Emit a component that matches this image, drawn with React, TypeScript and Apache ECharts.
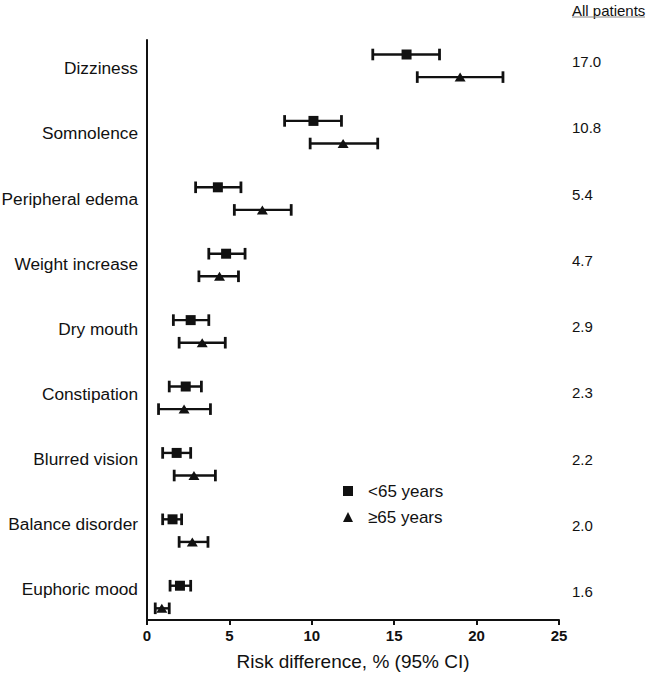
import React, { useEffect, useRef } from "react";
import * as echarts from "echarts";

const categories = [
  "Dizziness",
  "Somnolence",
  "Peripheral edema",
  "Weight increase",
  "Dry mouth",
  "Constipation",
  "Blurred vision",
  "Balance disorder",
  "Euphoric mood",
];

const under65Est = [15.75, 10.1, 4.3, 4.8, 2.65, 2.35, 1.8, 1.55, 2.0];
const under65Lo = [13.7, 8.35, 2.95, 3.75, 1.6, 1.35, 0.95, 0.95, 1.4];
const under65Hi = [17.75, 11.8, 5.7, 5.95, 3.75, 3.3, 2.65, 2.1, 2.65];

const over65Est = [19.0, 11.9, 7.0, 4.4, 3.35, 2.25, 2.85, 2.75, 0.9];
const over65Lo = [16.4, 9.9, 5.3, 3.15, 1.95, 0.7, 1.65, 1.95, 0.5];
const over65Hi = [21.6, 14.0, 8.75, 5.55, 4.75, 3.85, 4.15, 3.7, 1.35];

const allPatients = ["17.0", "10.8", "5.4", "4.7", "2.9", "2.3", "2.2", "2.0", "1.6"];

const xTicks = [0, 5, 10, 15, 20, 25];

const FONT = "Liberation Sans, Arial, sans-serif";
const INK = "#111";

export default function App() {
  const ref = useRef<HTMLDivElement>(null);

  useEffect(() => {
    if (!ref.current) return;
    const chart = echarts.init(ref.current, undefined, { renderer: "svg" });
    const idx = categories.map((_, i) => i);

    const errRender = (off: number) => (params: any, api: any) => {
      const a = api.coord([api.value(0), api.value(2)]);
      const b = api.coord([api.value(1), api.value(2)]);
      const y = a[1] + off;
      const h = 5.8;
      return {
        type: "group",
        children: [
          { type: "line", shape: { x1: a[0], y1: y, x2: b[0], y2: y }, style: { stroke: INK, lineWidth: 2.4 } },
          { type: "line", shape: { x1: a[0], y1: y - h, x2: a[0], y2: y + h }, style: { stroke: INK, lineWidth: 2.8 } },
          { type: "line", shape: { x1: b[0], y1: y - h, x2: b[0], y2: y + h }, style: { stroke: INK, lineWidth: 2.8 } },
        ],
      };
    };

    const OFF = 11.3;

    chart.setOption({
      animation: false,
      textStyle: { fontFamily: FONT },
      grid: { left: 147, right: 88, top: 40, bottom: 55, containLabel: false, outerBoundsMode: "none" },
      legend: {
        data: ["<65 years", "≥65 years"],
        orient: "vertical",
        left: 338,
        top: 476,
        itemWidth: 10,
        itemHeight: 10,
        itemGap: 6,
        selectedMode: false,
        textStyle: { fontSize: 17, color: INK, fontFamily: FONT, lineHeight: 20, padding: [0, 0, 0, 10] },
      },
      xAxis: {
        type: "value",
        min: 0,
        max: 25,
        interval: 5,
        axisLine: { show: true, onZero: false, lineStyle: { color: INK, width: 2 } },
        axisTick: { show: true, length: 5, lineStyle: { color: INK, width: 2 } },
        axisLabel: {
          customValues: xTicks,
          fontSize: 15,
          fontWeight: "bold",
          color: INK,
          fontFamily: FONT,
          margin: 8,
        },
        splitLine: { show: false },
        name: "Risk difference, % (95% CI)",
        nameLocation: "middle",
        nameGap: 32,
        nameTextStyle: { fontSize: 19, color: INK, fontFamily: FONT },
      },
      yAxis: [
        {
          type: "value",
          inverse: true,
          min: -0.3886,
          max: 8.346,
          axisLine: { show: true, onZero: false, lineStyle: { color: INK, width: 2 } },
          axisTick: { show: false },
          axisLabel: { show: false },
          splitLine: { show: false },
        },
        {
          type: "value",
          position: "left",
          inverse: true,
          min: -0.4347,
          max: 8.474,
          axisLine: { show: false, onZero: false },
          axisTick: { show: false },
          splitLine: { show: false },
          axisLabel: {
            customValues: idx,
            formatter: (v: number) => categories[Math.round(v)] ?? "",
            fontSize: 17.3,
            color: INK,
            fontFamily: FONT,
            margin: 9,
          },
        },
        {
          type: "value",
          position: "right",
          inverse: true,
          min: -0.3275,
          max: 8.427,
          axisLine: { show: false, onZero: false },
          axisTick: { show: false },
          splitLine: { show: false },
          axisLabel: {
            customValues: idx,
            formatter: (v: number) => allPatients[Math.round(v)] ?? "",
            fontSize: 15,
            color: INK,
            fontFamily: FONT,
            margin: 13,
          },
        },
      ],
      graphic: [
        {
          type: "text",
          left: 572,
          top: 3,
          style: { text: "All patients", fontSize: 15, fill: INK, fontFamily: FONT },
        },
        {
          type: "line",
          shape: { x1: 572, y1: 17, x2: 645, y2: 17 },
          style: { stroke: "#888", lineWidth: 1 },
        },
      ],
      series: [
        {
          name: "ci<65",
          type: "custom",
          renderItem: errRender(-OFF),
          encode: { x: [0, 1], y: 2 },
          data: idx.map((i) => [under65Lo[i], under65Hi[i], i]),
          z: 1,
        },
        {
          name: "ci>=65",
          type: "custom",
          renderItem: errRender(OFF),
          encode: { x: [0, 1], y: 2 },
          data: idx.map((i) => [over65Lo[i], over65Hi[i], i]),
          z: 1,
        },
        {
          name: "<65 years",
          type: "scatter",
          symbol: "rect",
          symbolSize: 10,
          symbolOffset: [0, -OFF],
          itemStyle: { color: INK, opacity: 1 },
          data: idx.map((i) => [under65Est[i], i]),
          z: 3,
        },
        {
          name: "≥65 years",
          type: "scatter",
          symbol: "triangle",
          symbolSize: [11, 9],
          symbolOffset: [0, OFF],
          itemStyle: { color: INK, opacity: 1 },
          data: idx.map((i) => [over65Est[i], i]),
          z: 3,
        },
      ],
    });

    return () => chart.dispose();
  }, []);

  return (
    <div
      ref={ref}
      style={{ position: "fixed", left: 0, top: 0, width: 647, height: 675, background: "#fff" }}
    />
  );
}
